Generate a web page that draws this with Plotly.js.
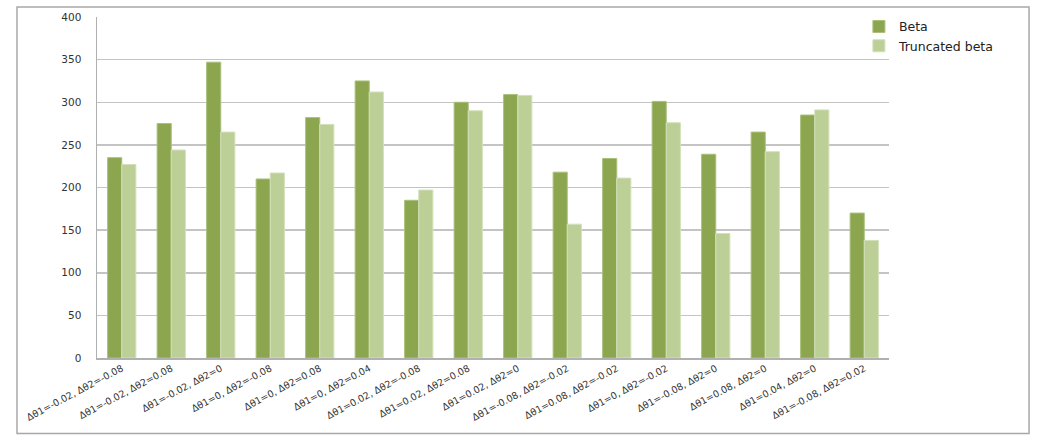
<!DOCTYPE html>
<html>
<head>
<meta charset="utf-8">
<script src="https://cdn.plot.ly/plotly-3.0.1.min.js"></script>
<style>
html,body{margin:0;padding:0;background:#fff;}
#chart{width:1046px;height:444px;}
</style>
</head>
<body>
<div id="chart"></div>
<script>
const categories = [
  "Δθ1=-0.02, Δθ2=-0.08",
  "Δθ1=-0.02, Δθ2=0.08",
  "Δθ1=-0.02, Δθ2=0",
  "Δθ1=0, Δθ2=-0.08",
  "Δθ1=0, Δθ2=0.08",
  "Δθ1=0, Δθ2=0.04",
  "Δθ1=0.02, Δθ2=-0.08",
  "Δθ1=0.02, Δθ2=0.08",
  "Δθ1=0.02, Δθ2=0",
  "Δθ1=-0.08, Δθ2=-0.02",
  "Δθ1=0.08, Δθ2=-0.02",
  "Δθ1=0, Δθ2=-0.02",
  "Δθ1=-0.08, Δθ2=0",
  "Δθ1=0.08, Δθ2=0",
  "Δθ1=0.04, Δθ2=0",
  "Δθ1=-0.08, Δθ2=0.02"
];
const beta = [235, 275, 347, 210, 282, 325, 185, 300, 309, 218, 234, 301, 239, 265, 285, 170];
const truncatedBeta = [227, 244, 265, 217, 274, 312, 197, 290, 308, 157, 211, 276, 146, 242, 291, 138];
const yTicks = [0, 50, 100, 150, 200, 250, 300, 350, 400];

const traces = [
  {type: 'bar', name: 'Beta', x: categories, y: beta,
   marker: {color: '#8ba64e', line: {color: '#a9c07a', width: 1}}},
  {type: 'bar', name: 'Truncated beta', x: categories, y: truncatedBeta,
   marker: {color: '#bbcf97', line: {color: '#d3e0bb', width: 1}}}
];

const layout = {
  width: 1046, height: 444,
  margin: {l: 97, r: 157, t: 15, b: 86},
  paper_bgcolor: '#ffffff', plot_bgcolor: '#ffffff',
  font: {family: 'DejaVu Sans, Verdana, sans-serif', color: '#333333', size: 10},
  barmode: 'group', bargap: 0.43, bargroupgap: 0,
  showlegend: true,
  legend: {x: 0.962, xanchor: 'left', y: 1.015, yanchor: 'top',
           font: {size: 12.5, color: '#222222'}, bgcolor: 'rgba(0,0,0,0)',
           tracegroupgap: 5, itemwidth: 30},
  xaxis: {type: 'category', tickangle: -28, tickfont: {size: 9.5, color: '#333'},
          showline: true, linecolor: '#b0b0b0', linewidth: 1.5,
          ticks: '', showgrid: false, automargin: false},
  yaxis: {range: [0, 400], tickvals: yTicks, ticktext: yTicks.map(String),
          tickfont: {size: 10.5, color: '#333'},
          showline: true, linecolor: '#b0b0b0', linewidth: 1.5,
          showgrid: true, gridcolor: '#c4c4c4', gridwidth: 1.5,
          zeroline: false, ticks: 'outside', ticklen: 12, tickcolor: 'rgba(0,0,0,0)',
          automargin: false},
  shapes: [
    {type: 'rect', xref: 'paper', yref: 'paper',
     x0: -0.101, x1: 1.1768, y0: -0.2216, y1: 1.029,
     line: {color: '#a8a8a8', width: 1.5}, fillcolor: 'rgba(0,0,0,0)'}
  ]
};

Plotly.newPlot('chart', traces, layout, {displayModeBar: false, staticPlot: true});
</script>
</body>
</html>
